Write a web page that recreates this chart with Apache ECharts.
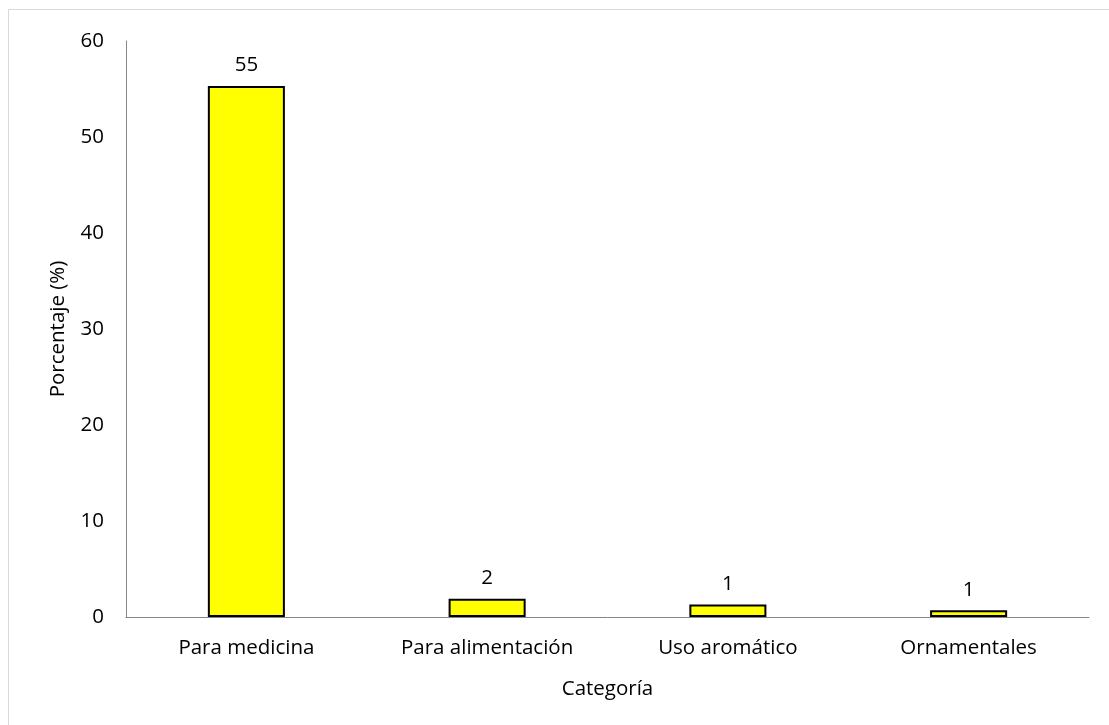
<!DOCTYPE html>
<html>
<head>
<meta charset="utf-8">
<script src="https://cdn.jsdelivr.net/npm/echarts@6/dist/echarts.min.js"></script>
<style>
html,body{margin:0;padding:0;background:#fff;}
#chart{width:1109px;height:725px;}
</style>
</head>
<body>
<div id="chart"></div>
<script>
const categories = ['Para medicina', 'Para alimentación', 'Uso aromático', 'Ornamentales'];
const values = [55.3, 1.9, 1.3, 0.7];
const labels = ['55', '2', '1', '1'];
const yTicks = [0, 10, 20, 30, 40, 50, 60];

const FONT = '"Open Sans", sans-serif';
const FS = 20.5;
const chart = echarts.init(document.getElementById('chart'));
chart.setOption({
  animation: false,
  backgroundColor: '#fff',
  graphic: [{
    type: 'rect',
    shape: {x: 8.5, y: 9.5, width: 1120, height: 730},
    style: {fill: 'none', stroke: '#d9d9d9', lineWidth: 1}
  }],
  grid: {left: 126, right: 20, top: 41, bottom: 108, containLabel: false},
  xAxis: {
    type: 'category',
    data: categories,
    name: 'Categoría',
    nameLocation: 'middle',
    nameGap: 62,
    nameTextStyle: {fontFamily: FONT, fontSize: FS, color: '#000'},
    axisLine: {lineStyle: {color: '#868686', width: 1}},
    axisTick: {show: false},
    axisLabel: {fontFamily: FONT, fontSize: FS, color: '#000', margin: 21}
  },
  yAxis: {
    type: 'value',
    min: 0, max: 60, interval: 10,
    name: 'Porcentaje (%)',
    nameLocation: 'middle',
    nameGap: 57,
    nameTextStyle: {fontFamily: FONT, fontSize: FS, color: '#000'},
    axisLine: {show: true, lineStyle: {color: '#868686', width: 1}},
    axisTick: {show: false},
    splitLine: {show: false},
    axisLabel: {
      fontFamily: FONT, fontSize: FS, color: '#000', margin: 22,
      formatter: v => yTicks.includes(v) ? String(v) : ''
    }
  },
  series: [{
    type: 'bar',
    data: values,
    barWidth: '32%',
    itemStyle: {color: '#ffff00', borderColor: '#000', borderWidth: 2},
    label: {
      show: true, position: 'top', distance: 10,
      fontFamily: FONT, fontSize: FS, color: '#000',
      formatter: p => labels[p.dataIndex]
    }
  }]
});
</script>
</body>
</html>
